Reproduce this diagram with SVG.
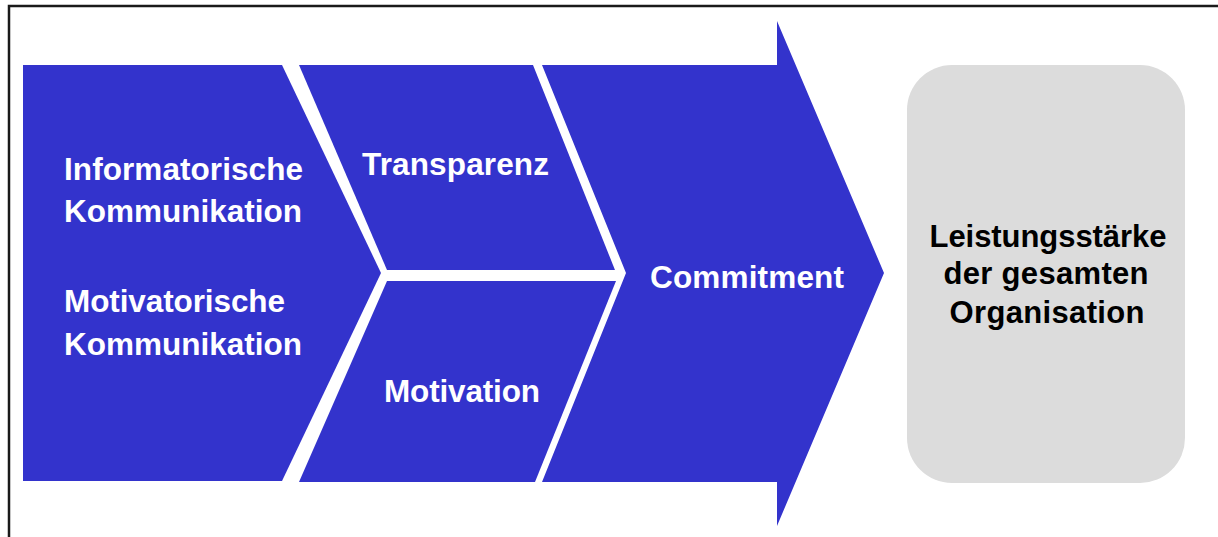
<svg xmlns="http://www.w3.org/2000/svg" width="1218" height="537" viewBox="0 0 1218 537">
<style>
.blue{fill:#3333cc}
.wt{fill:#ffffff;font-family:"Liberation Sans",Arial,sans-serif;font-weight:bold;font-size:31.5px}
.bt{fill:#000000;font-family:"Liberation Sans",Arial,sans-serif;font-weight:bold;font-size:31px;text-anchor:middle}
</style>
<rect x="9" y="6" width="1230" height="560" fill="#ffffff" stroke="#1a1a1a" stroke-width="2.5"/>
<g id="kommunikation">
<polygon class="blue" points="23,65 282,65 381,273 282,481 23,481"/>
<text class="wt" x="64" y="180" textLength="239">Informatorische</text>
<text class="wt" x="64" y="222" textLength="238">Kommunikation</text>
<text class="wt" x="64" y="312" textLength="221">Motivatorische</text>
<text class="wt" x="64" y="355" textLength="238">Kommunikation</text>
</g>
<g id="transparenz">
<polygon class="blue" points="299,65 533,65 615,270 387,270"/>
<text class="wt" x="362" y="175" textLength="187">Transparenz</text>
</g>
<g id="motivation">
<polygon class="blue" points="387,281 616,281 535,482 299,482"/>
<text class="wt" x="384" y="402" textLength="156">Motivation</text>
</g>
<g id="commitment">
<polygon class="blue" points="542,65 777,65 777,21 884,273 777,526 777,482 542,482 626,273"/>
<text class="wt" x="650" y="288" textLength="194">Commitment</text>
</g>
<g id="leistung">
<rect x="907" y="65" width="278" height="418" rx="45" ry="45" fill="#dcdcdc"/>
<text class="bt" x="1048" y="247" textLength="237">Leistungsstärke</text>
<text class="bt" x="1046" y="284" textLength="205">der gesamten</text>
<text class="bt" x="1047" y="323" textLength="195">Organisation</text>
</g>
<g id="connectors"/>
</svg>
